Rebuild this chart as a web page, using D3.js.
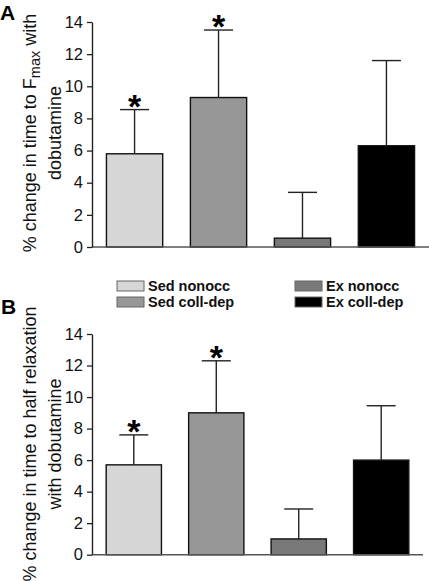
<!DOCTYPE html>
<html>
<head>
<meta charset="utf-8">
<script src="https://cdn.jsdelivr.net/npm/d3@7"></script>
<style>
  html, body { margin: 0; padding: 0; background: #fff; }
  svg { display: block; font-family: "Liberation Sans", Arial, sans-serif; }
</style>
</head>
<body>
<svg id="chart" width="429" height="581"></svg>
<script>
// ---- data ----
const categories = ["Sed nonocc", "Sed coll-dep", "Ex nonocc", "Ex coll-dep"];
const colors = ["#d6d6d6", "#979797", "#797979", "#000000"];
const fmaxMeans = [5.8, 9.3, 0.55, 6.3];
const fmaxErrors = [2.75, 4.2, 2.85, 5.3];
const fmaxSignif = [true, true, false, false];
const relaxMeans = [5.7, 9.0, 1.0, 6.0];
const relaxErrors = [1.9, 3.3, 1.9, 3.45];
const relaxSignif = [true, true, false, false];
const yTicks = [0, 2, 4, 6, 8, 10, 12, 14];

const svg = d3.select("#chart");

function panel(opts) {
  const g = svg.append("g");
  const y = d3.scaleLinear().domain([0, 14]).range([opts.y0, opts.y1]);
  const x = d3.scaleBand().domain(categories).range([opts.xL, opts.xR])
    .paddingInner(0.33).paddingOuter(0.172);

  // bars
  g.selectAll("rect.bar").data(categories).enter().append("rect")
    .attr("class", "bar")
    .attr("x", d => x(d))
    .attr("width", x.bandwidth())
    .attr("y", (d, i) => y(opts.means[i]))
    .attr("height", (d, i) => y(0) - y(opts.means[i]))
    .attr("fill", (d, i) => colors[i])
    .attr("stroke", "#111")
    .attr("stroke-width", 1.4);

  // error bars (upper only)
  const capW = 29;
  categories.forEach((c, i) => {
    const cx = x(c) + x.bandwidth() / 2;
    const top = y(opts.means[i] + opts.errors[i]);
    g.append("line").attr("x1", cx).attr("x2", cx)
      .attr("y1", y(opts.means[i])).attr("y2", top)
      .attr("stroke", "#222").attr("stroke-width", 1.4);
    g.append("line").attr("x1", cx - capW / 2).attr("x2", cx + capW / 2)
      .attr("y1", top).attr("y2", top)
      .attr("stroke", "#222").attr("stroke-width", 1.4);
    if (opts.signif[i]) {
      g.append("text").attr("x", cx).attr("y", top + 8)
        .attr("text-anchor", "middle")
        .attr("font-size", 34).attr("font-weight", "bold")
        .attr("fill", "#000").text("*");
    }
  });

  // x axis baseline
  g.append("line").attr("x1", opts.xL).attr("x2", opts.xR)
    .attr("y1", y(0)).attr("y2", y(0))
    .attr("stroke", "#555").attr("stroke-width", 1.5);

  // y axis
  const ax = g.append("g").attr("transform", `translate(${opts.xL},0)`)
    .call(d3.axisLeft(y).tickValues(yTicks).tickSize(5).tickPadding(4).tickSizeOuter(0));
  ax.select(".domain").attr("stroke", "#222").attr("stroke-width", 1.4);
  ax.selectAll(".tick line").attr("stroke", "#222").attr("stroke-width", 1.3);
  ax.selectAll(".tick text").attr("font-size", 16.5)
    .attr("font-family", "Liberation Sans, Arial, sans-serif").attr("fill", "#111");

  // y title
  const cy = opts.titleY;
  const t1 = g.append("text")
    .attr("transform", `translate(30,${cy}) rotate(-90)`)
    .attr("text-anchor", "middle").attr("dy", "0.35em")
    .attr("font-size", 18).attr("fill", "#111");
  opts.title1(t1);
  g.append("text")
    .attr("transform", `translate(55,${cy}) rotate(-90)`)
    .attr("text-anchor", "middle").attr("dy", "0.35em")
    .attr("font-size", 18).attr("fill", "#111")
    .text(opts.title2);

  // panel letter
  g.append("text").attr("x", opts.letterX).attr("y", opts.letterY)
    .attr("font-size", 21).attr("font-weight", "bold").attr("fill", "#000")
    .text(opts.letter);
}

panel({
  y0: 247, y1: 22, xL: 92, xR: 429,
  means: fmaxMeans, errors: fmaxErrors, signif: fmaxSignif,
  titleY: 133,
  title1: t => {
    t.append("tspan").text("% change in time to F");
    t.append("tspan").attr("font-size", 14.5).attr("dy", 4).text("max");
    t.append("tspan").attr("dy", -4).text(" with");
  },
  title2: "dobutamine",
  letter: "A", letterX: 0, letterY: 19.5
});

panel({
  y0: 554.7, y1: 334, xL: 92, xR: 423,
  means: relaxMeans, errors: relaxErrors, signif: relaxSignif,
  titleY: 444,
  title1: t => t.text("% change in time to half relaxation"),
  title2: "with dobutamine",
  letter: "B", letterX: 1, letterY: 314
});

// legend
const legendPos = [[117, 281], [117, 297], [295, 281], [295, 297]];
const legend = svg.append("g");
categories.forEach((c, i) => {
  const [lx, ly] = legendPos[i];
  legend.append("rect").attr("x", lx).attr("y", ly).attr("width", 27).attr("height", 10)
    .attr("fill", colors[i]).attr("stroke", "#666").attr("stroke-width", 1);
  legend.append("text").attr("x", lx + 31).attr("y", ly + 10)
    .attr("font-size", 14.5).attr("font-weight", "bold").attr("fill", "#111")
    .text(c);
});
</script>
</body>
</html>
